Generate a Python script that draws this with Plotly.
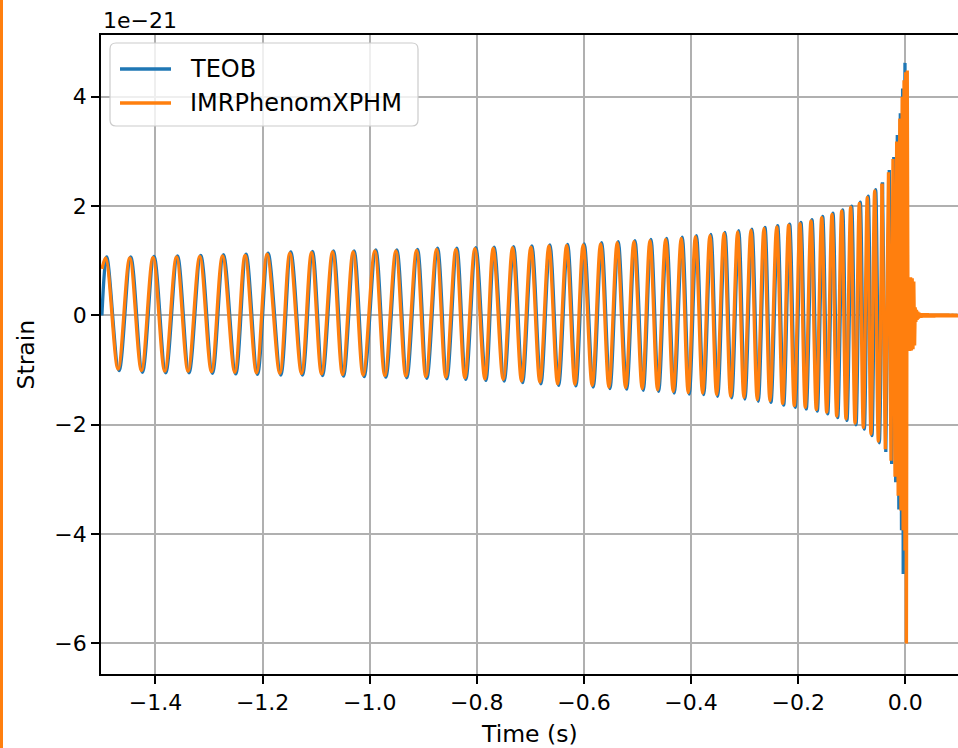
import plotly.graph_objects as go

# IMRPhenomXPHM strain (units of 1e-21) at successive extrema, merger and ringdown
imr_time = [
    -1.5000, -1.4929, -1.4699, -1.4481, -1.4262, -1.4046, -1.3827, -1.3608, -1.3392, -1.3173,
    -1.2955, -1.2749, -1.2520, -1.2327, -1.2114, -1.1916, -1.1679, -1.1492, -1.1274, -1.1087,
    -1.0900, -1.0695, -1.0508, -1.0310, -1.0123, -0.9905, -0.9718, -0.9512, -0.9326, -0.9126,
    -0.8952, -0.8752, -0.8579, -0.8392, -0.8224, -0.8037, -0.7850, -0.7695, -0.7508, -0.7333,
    -0.7165, -0.6991, -0.6823, -0.6655, -0.6492, -0.6324, -0.6169, -0.6014, -0.5846, -0.5689,
    -0.5534, -0.5379, -0.5222, -0.5067, -0.4912, -0.4768, -0.4625, -0.4475, -0.4333, -0.4184,
    -0.4053, -0.3919, -0.3784, -0.3648, -0.3523, -0.3386, -0.3261, -0.3130, -0.3013, -0.2882,
    -0.2764, -0.2639, -0.2527, -0.2402, -0.2290, -0.2178, -0.2073, -0.1967, -0.1868, -0.1761,
    -0.1662, -0.1561, -0.1468, -0.1369, -0.1281, -0.1188, -0.1108, -0.1020, -0.0939, -0.0859,
    -0.0784, -0.0710, -0.0641, -0.0572, -0.0504, -0.0435, -0.0374, -0.0314, -0.0267, -0.0230,
    -0.0192, -0.0161, -0.0133, -0.0103, -0.0082, -0.0058, -0.0041, -0.0024, -0.0007, 0.0006,
    0.0021, 0.0037, 0.0052, 0.0069, 0.0084, 0.0099, 0.0114, 0.0129, 0.0144, 0.0159,
    0.0174, 0.0185, 0.0197, 0.0209, 0.0221, 0.0233, 0.0245, 0.0257, 0.0269, 0.0281,
    0.0293, 0.0317, 0.0341, 0.0365, 0.0389, 0.0413, 0.0437, 0.0461, 0.0485, 0.0509,
    0.0533, 0.0557, 0.0581, 0.0605, 0.0629, 0.0653, 0.0677, 0.0701, 0.0725, 0.0749,
    0.0773, 0.0797, 0.0821, 0.0845, 0.0869, 0.0893, 0.0917, 0.0941, 0.0965, 0.0989,
]
imr_strain = [
    0.85, 1.05, -0.98, 1.05, -1.01, 1.06, -1.02, 1.07, -1.02, 1.08,
    -1.03, 1.09, -1.04, 1.10, -1.05, 1.12, -1.06, 1.14, -1.06, 1.15,
    -1.07, 1.16, -1.08, 1.16, -1.09, 1.18, -1.10, 1.18, -1.11, 1.19,
    -1.12, 1.21, -1.13, 1.21, -1.14, 1.22, -1.16, 1.23, -1.17, 1.24,
    -1.20, 1.25, -1.22, 1.27, -1.25, 1.28, -1.26, 1.29, -1.28, 1.31,
    -1.31, 1.33, -1.32, 1.35, -1.34, 1.37, -1.36, 1.39, -1.39, 1.41,
    -1.41, 1.44, -1.42, 1.46, -1.45, 1.50, -1.48, 1.53, -1.50, 1.56,
    -1.54, 1.59, -1.56, 1.62, -1.61, 1.65, -1.65, 1.68, -1.68, 1.73,
    -1.72, 1.79, -1.77, 1.85, -1.84, 1.91, -1.89, 1.98, -1.97, 2.05,
    -2.05, 2.16, -2.17, 2.28, -2.30, 2.41, -2.45, 2.62, -2.66, 2.86,
    -2.95, 3.18, -3.30, 3.60, -3.57, 4.00, -3.93, 4.30, -4.30, 4.45,
    -6.00, 4.48, -0.65, 0.70, -0.65, 0.70, -0.64, 0.68, -0.62, 0.62,
    -0.55, 0.15, -0.12, 0.10, -0.08, 0.07, -0.06, 0.05, -0.045, 0.04,
    -0.040, 0.035, -0.035, 0.033, -0.033, 0.032, -0.032, 0.030, -0.030, 0.030,
    -0.030, 0.028, -0.028, 0.028, -0.028, 0.026, -0.026, 0.026, -0.026, 0.025,
    -0.025, 0.025, -0.025, 0.024, -0.024, 0.024, -0.024, 0.022, -0.022, 0.022,
]

# TEOB strain (units of 1e-21)
teob_time = [
    -1.5000, -1.4910, -1.4680, -1.4462, -1.4243, -1.4027, -1.3808, -1.3589, -1.3373, -1.3154,
    -1.2936, -1.2730, -1.2501, -1.2308, -1.2095, -1.1897, -1.1660, -1.1473, -1.1255, -1.1068,
    -1.0881, -1.0676, -1.0489, -1.0291, -1.0104, -0.9886, -0.9699, -0.9493, -0.9307, -0.9107,
    -0.8933, -0.8733, -0.8560, -0.8373, -0.8205, -0.8018, -0.7831, -0.7676, -0.7489, -0.7314,
    -0.7146, -0.6972, -0.6804, -0.6636, -0.6473, -0.6305, -0.6150, -0.5995, -0.5827, -0.5670,
    -0.5515, -0.5360, -0.5203, -0.5048, -0.4893, -0.4749, -0.4606, -0.4456, -0.4314, -0.4165,
    -0.4034, -0.3900, -0.3765, -0.3629, -0.3504, -0.3367, -0.3242, -0.3111, -0.2994, -0.2863,
    -0.2745, -0.2620, -0.2508, -0.2383, -0.2271, -0.2159, -0.2054, -0.1948, -0.1849, -0.1742,
    -0.1643, -0.1542, -0.1449, -0.1350, -0.1262, -0.1169, -0.1089, -0.1001, -0.0920, -0.0840,
    -0.0765, -0.0691, -0.0622, -0.0553, -0.0485, -0.0426, -0.0364, -0.0299, -0.0254, -0.0215,
    -0.0179, -0.0149, -0.0120, -0.0093, -0.0071, -0.0050, -0.0039, -0.0006, 0.0013, 0.0028,
    0.0043, 0.0058, 0.0073, 0.0088, 0.0106, 0.0125, 0.0144, 0.0162, 0.0190, 0.0219,
    0.0275, 0.1000,
]
teob_strain = [
    0.00, 1.07, -1.01, 1.07, -1.04, 1.08, -1.05, 1.09, -1.05, 1.10,
    -1.06, 1.11, -1.07, 1.12, -1.08, 1.14, -1.09, 1.16, -1.09, 1.17,
    -1.10, 1.18, -1.11, 1.18, -1.12, 1.20, -1.13, 1.20, -1.14, 1.21,
    -1.15, 1.23, -1.16, 1.23, -1.17, 1.24, -1.19, 1.25, -1.20, 1.26,
    -1.23, 1.27, -1.25, 1.29, -1.28, 1.30, -1.29, 1.31, -1.31, 1.33,
    -1.34, 1.35, -1.35, 1.37, -1.37, 1.39, -1.39, 1.41, -1.42, 1.43,
    -1.44, 1.46, -1.45, 1.48, -1.48, 1.52, -1.51, 1.55, -1.53, 1.58,
    -1.57, 1.61, -1.59, 1.64, -1.64, 1.67, -1.68, 1.70, -1.71, 1.75,
    -1.75, 1.81, -1.80, 1.87, -1.87, 1.93, -1.92, 2.00, -2.00, 2.07,
    -2.08, 2.18, -2.20, 2.30, -2.33, 2.43, -2.50, 2.66, -2.72, 2.90,
    -3.05, 3.30, -3.55, 3.70, -3.93, 4.15, -4.73, 4.62, -1.50, 0.60,
    -0.50, 0.50, -0.45, 0.40, -0.30, 0.20, -0.12, 0.08, -0.04, 0.02,
    0.00, 0.00,
]

x_ticks = [-1.4, -1.2, -1.0, -0.8, -0.6, -0.4, -0.2, 0.0]
x_tick_labels = ["\u22121.4", "\u22121.2", "\u22121.0", "\u22120.8", "\u22120.6", "\u22120.4", "\u22120.2", "0.0"]
y_ticks = [-6, -4, -2, 0, 2, 4]
y_tick_labels = ["\u22126", "\u22124", "\u22122", "0", "2", "4"]

series_names = ["TEOB", "IMRPhenomXPHM"]
series_colors = ["#1f77b4", "#ff7f0e"]

FONT = "DejaVu Sans"
FS = 22          # tick labels and offset text
FS_LABEL = 23.5  # axis titles
FS_LEGEND = 24
LW = 3.3
SMOOTH_END = -0.045   # smooth inspiral before this time, straight segments after

fig = go.Figure()


def add_series(t, h, color, name):
    k = next(i for i, v in enumerate(t) if v > SMOOTH_END)
    fig.add_trace(go.Scatter(
        x=t[:k + 1], y=h[:k + 1], mode="lines", name=name, showlegend=False,
        line=dict(color=color, width=LW, shape="spline", smoothing=1.0, simplify=False),
        hoverinfo="skip"))
    fig.add_trace(go.Scatter(
        x=t[k:], y=h[k:], mode="lines", name=name, showlegend=False,
        line=dict(color=color, width=LW, shape="linear", simplify=False),
        hoverinfo="skip"))


add_series(teob_time, teob_strain, series_colors[0], series_names[0])
add_series(imr_time, imr_strain, series_colors[1], series_names[1])

# plot-area geometry in pixels
L, R, T, B = 101, 958, 35, 674
W, H = R - L, B - T


def px(x):
    return (x - L) / W


def py(y):
    return (B - y) / H


axis_common = dict(
    ticks="outside", ticklen=8, tickwidth=1.8, tickcolor="black",
    showline=True, linecolor="black", linewidth=1.8,
    showgrid=True, gridcolor="#b0b0b0", gridwidth=1.8,
    zeroline=False, tickfont=dict(family=FONT, size=FS, color="black"),
)

fig.update_layout(
    width=958, height=748,
    margin=dict(l=L, r=958 - R, t=T, b=748 - B, pad=0),
    paper_bgcolor="white", plot_bgcolor="white",
    xaxis=dict(range=[-1.5017, 0.0984], tickvals=x_ticks, ticktext=x_tick_labels,
               mirror=True, **axis_common),
    yaxis=dict(range=[-6.56, 5.13], tickvals=y_ticks, ticktext=y_tick_labels,
               mirror=False, **axis_common),
    showlegend=False,
)

# legend box with rounded corners
x0, x1, y0, y1 = px(110), px(418), py(126), py(43)
rx, ry = 6 / W, 6 / H
path = (f"M {x0+rx},{y1} L {x1-rx},{y1} Q {x1},{y1} {x1},{y1-ry} "
        f"L {x1},{y0+ry} Q {x1},{y0} {x1-rx},{y0} L {x0+rx},{y0} "
        f"Q {x0},{y0} {x0},{y0+ry} L {x0},{y1-ry} Q {x0},{y1} {x0+rx},{y1} Z")
shapes = [
    dict(type="path", xref="paper", yref="paper", path=path,
         fillcolor="rgba(255,255,255,0.8)", line=dict(color="#cccccc", width=1.2)),
    # thin orange strip along the left edge of the page
    dict(type="rect", xref="paper", yref="paper", x0=px(0), x1=px(3), y0=py(748), y1=py(0),
         fillcolor="#ff7f0e", line=dict(width=0)),
]
annotations = []
for i, (name, color) in enumerate(zip(series_names, series_colors)):
    yy = py(69 + 34 * i)
    shapes.append(dict(type="line", xref="paper", yref="paper", x0=px(120), x1=px(171),
                       y0=yy, y1=yy, line=dict(color=color, width=LW)))
    annotations.append(dict(x=px(188), y=yy, xref="paper", yref="paper", text=name,
                            showarrow=False, xanchor="left", yanchor="middle",
                            font=dict(family=FONT, size=FS_LEGEND, color="black")))

annotations += [
    dict(x=0, y=py(20), xref="paper", yref="paper", text="1e\u221221", showarrow=False,
         xanchor="left", yanchor="middle", font=dict(family=FONT, size=FS, color="black")),
    dict(x=0.5, y=py(734), xref="paper", yref="paper", text="Time (s)", showarrow=False,
         xanchor="center", yanchor="middle", font=dict(family=FONT, size=FS_LABEL, color="black")),
    dict(x=px(25), y=0.5, xref="paper", yref="paper", text="Strain", showarrow=False,
         textangle=-90, xanchor="center", yanchor="middle",
         font=dict(family=FONT, size=FS_LABEL, color="black")),
]

fig.update_layout(shapes=shapes, annotations=annotations)
fig.write_html("out.html")
